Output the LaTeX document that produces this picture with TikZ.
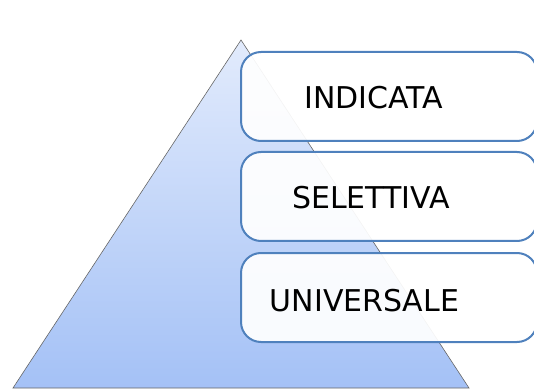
\documentclass[tikz,border=0pt]{standalone}
\usepackage{fontspec}
\setmainfont{DejaVu Sans}
\definecolor{boxblue}{HTML}{4F81BD}
\definecolor{pyrtop}{HTML}{E2EBFC}
\definecolor{pyrbot}{HTML}{A4C1F6}
\begin{document}
\begin{tikzpicture}[x=1pt,y=1pt,
  level/.style={draw=boxblue,line width=2pt,rounded corners=20pt,fill=white,fill opacity=0.93,draw opacity=1},
  lbl/.style={font=\fontsize{30}{36}\selectfont,inner sep=0pt,text opacity=1,fill opacity=1}]
\useasboundingbox (0,0) rectangle (534,388);
\clip (0,0) rectangle (534,388);
\shade[top color=pyrtop,bottom color=pyrbot,draw=gray!80!black,line width=0.6pt]
  (241,348) -- (13,0) -- (469,0) -- cycle;
\node[level,minimum width=296pt,minimum height=89pt,anchor=south west] (b1) at (240,246) {};
\node[level,minimum width=296pt,minimum height=89pt,anchor=south west] (b2) at (240,146) {};
\node[level,minimum width=296pt,minimum height=89pt,anchor=south west] (b3) at (240,45) {};
\node[lbl] (t1) at (374,290) {INDICATA};
\node[lbl] (t2) at (371,190) {SELETTIVA};
\node[lbl] (t3) at (364.5,87.5) {UNIVERSALE};
\end{tikzpicture}
\end{document}
